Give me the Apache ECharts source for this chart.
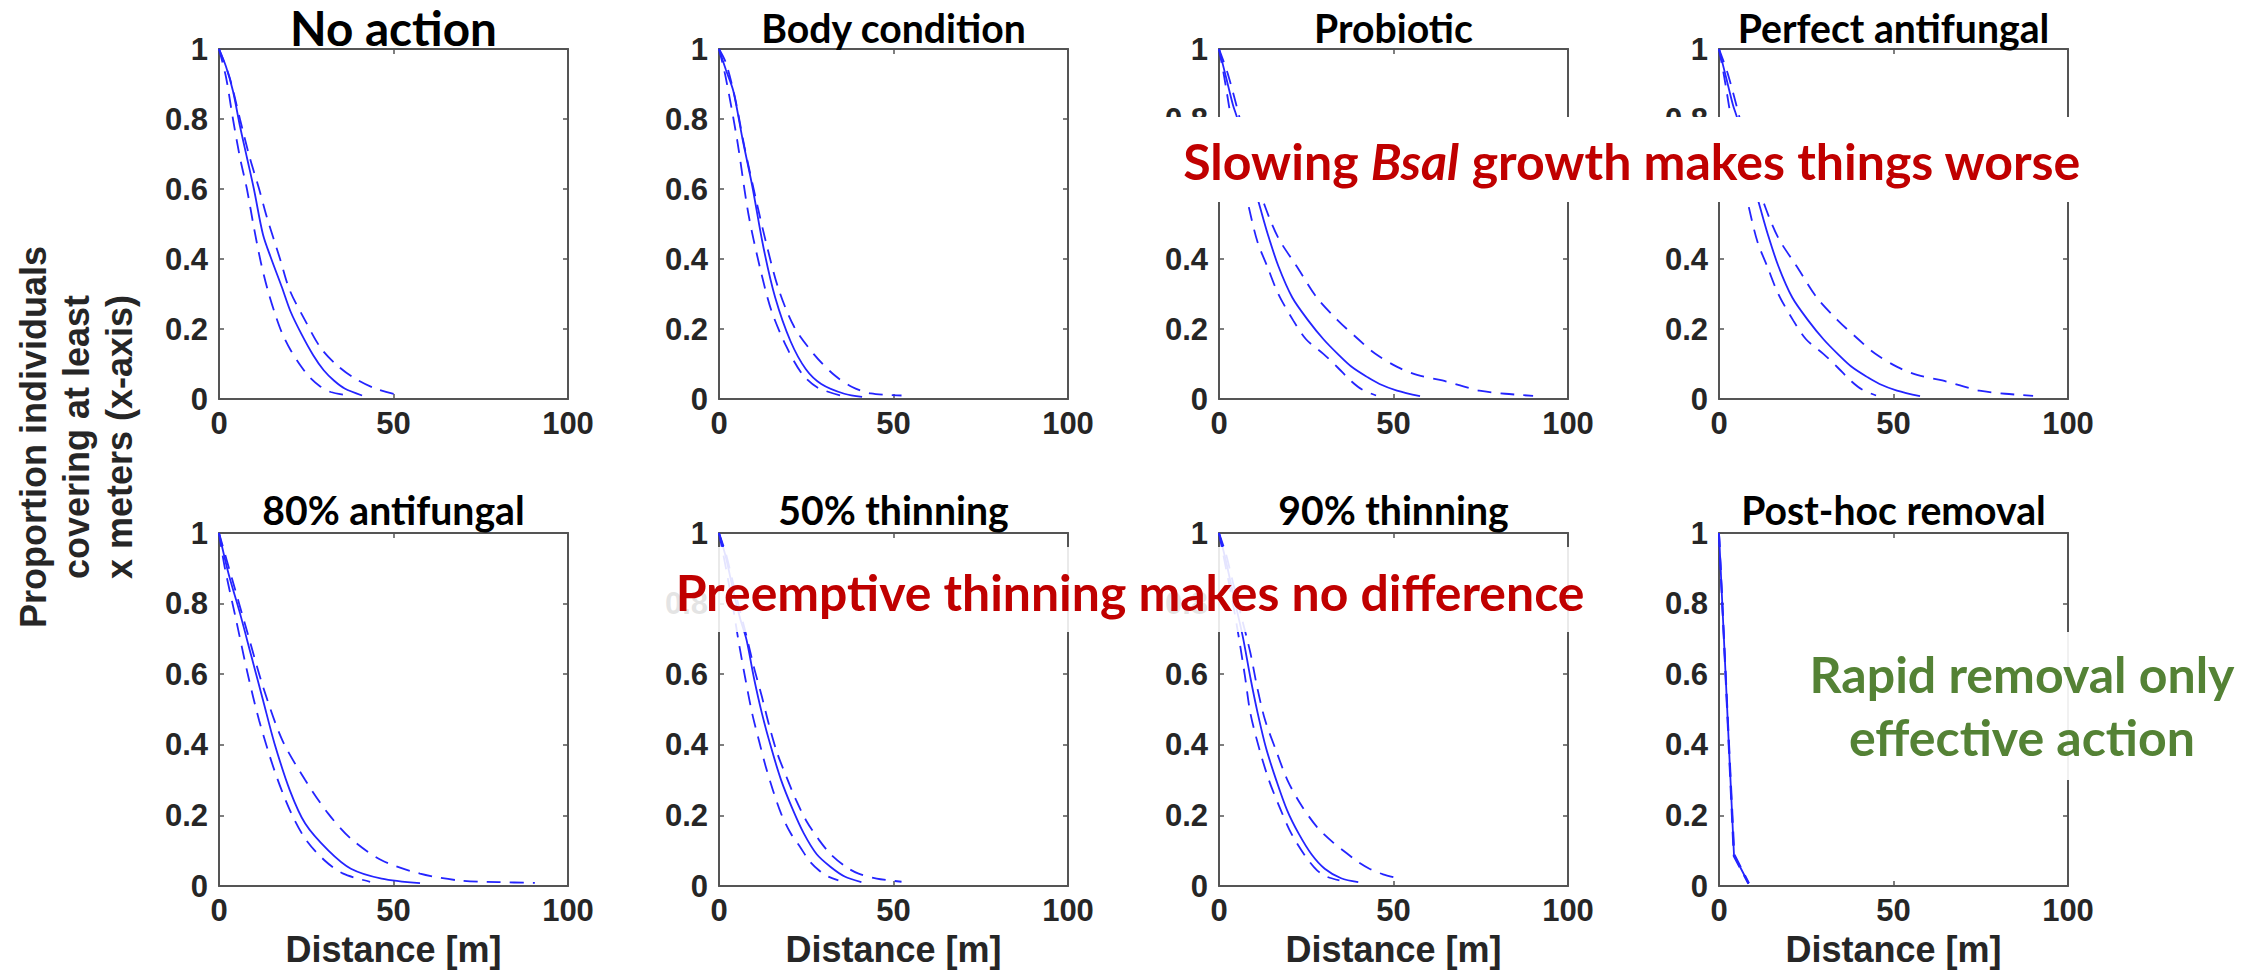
<!DOCTYPE html>
<html><head><meta charset="utf-8">
<script src="https://cdn.jsdelivr.net/npm/echarts@6/dist/echarts.min.js"></script>
<style>html,body{margin:0;padding:0;background:#fff}#c{width:2267px;height:970px}</style>
</head><body><div id="c"></div>
<script>
// ---------------- DATA ----------------
const panelTitles = ['No action','Body condition','Probiotic','Perfect antifungal','80% antifungal','50% thinning','90% thinning','Post-hoc removal'];
const xTickInterval = 50;   // x ticks: 0, 50, 100
const yTickInterval = 0.2;  // y ticks: 0 ... 1

// each curve: [distance (m), proportion]
const noActionMedian = [[0,1],[2,0.95],[4,0.88],[6,0.78],[8,0.69],[10,0.6],[12.6,0.47],[15,0.4],[18,0.32],[20.5,0.25],[23.6,0.186],[27,0.125],[30,0.082],[33,0.052],[36,0.03],[41,0.01]];
const noActionLower  = [[0,1],[2,0.92],[4,0.8],[6,0.69],[8,0.6],[10,0.49],[12,0.39],[14,0.31],[16,0.245],[18,0.19],[20.5,0.14],[23.6,0.092],[26,0.062],[29,0.036],[32,0.02],[36,0.012]];
const noActionUpper  = [[0,1],[3,0.92],[6,0.8],[8.8,0.69],[11.5,0.6],[13.7,0.52],[17.5,0.4],[20.3,0.31],[24.7,0.224],[29,0.148],[33.4,0.1],[38.4,0.062],[45,0.029],[52,0.01]];

const bodyMedian = [[0,1],[2,0.94],[4.1,0.88],[6.8,0.74],[9.5,0.61],[12.8,0.43],[16.1,0.29],[20.5,0.165],[24.9,0.085],[29.3,0.043],[35.9,0.015],[41,0.006]];
const bodyLower  = [[0,1],[1.9,0.92],[5.2,0.74],[8.4,0.53],[11.7,0.377],[15,0.253],[19.4,0.148],[23.8,0.072],[28.2,0.033],[34.8,0.01]];
const bodyUpper  = [[0,1],[2,0.96],[4.6,0.86],[7.3,0.72],[10.6,0.57],[13.9,0.43],[17.2,0.31],[21.6,0.205],[27.1,0.129],[32.6,0.072],[38,0.035],[43.5,0.016],[52.3,0.01]];

const probioticMedian = [[0,1],[2,0.92],[4,0.84],[5.3,0.8],[8,0.69],[10,0.61],[11.7,0.55],[14,0.47],[17,0.38],[21,0.29],[25.6,0.224],[30,0.17],[34,0.129],[38,0.092],[42.6,0.062],[46,0.043],[51,0.024],[57.6,0.008]];
const probioticLower  = [[0,1],[1.5,0.92],[3.5,0.8],[6,0.67],[8.5,0.55],[11,0.45],[13.9,0.377],[17,0.3],[21.3,0.224],[25,0.17],[29.9,0.129],[34,0.09],[38,0.05],[41,0.027],[45,0.01]];
const probioticUpper  = [[0,1],[2.5,0.93],[6,0.8],[9,0.68],[13.2,0.55],[17,0.46],[22.4,0.377],[28,0.29],[34.1,0.224],[40,0.17],[44.8,0.129],[51.2,0.091],[57,0.068],[64,0.053],[70,0.036],[74.6,0.024],[82,0.015],[90,0.009]];

const perfectMedian = [[0,1],[2,0.92],[4,0.84],[5.3,0.8],[8,0.69],[10,0.61],[11.7,0.55],[14,0.47],[17,0.38],[21,0.29],[25.6,0.224],[30,0.17],[34,0.129],[38,0.092],[42.6,0.062],[46,0.043],[51,0.024],[57.6,0.008]];
const perfectLower  = [[0,1],[1.5,0.92],[3.5,0.8],[6,0.67],[8.5,0.55],[11,0.45],[13.9,0.377],[17,0.3],[21.3,0.224],[25,0.17],[29.9,0.129],[34,0.09],[38,0.05],[41,0.027],[45,0.01]];
const perfectUpper  = [[0,1],[2.5,0.93],[6,0.8],[9,0.68],[13.2,0.55],[17,0.46],[22.4,0.377],[28,0.29],[34.1,0.224],[40,0.17],[44.8,0.129],[51.2,0.091],[57,0.068],[64,0.053],[70,0.036],[74.6,0.024],[82,0.015],[90,0.009]];

const af80Median = [[0,1],[2.7,0.886],[6,0.773],[9.3,0.65],[12.6,0.527],[15.9,0.404],[20.3,0.271],[24.7,0.177],[31.3,0.101],[37.8,0.049],[46.6,0.021],[57.6,0.008]];
const af80Lower  = [[0,1],[1.6,0.905],[4.9,0.754],[8.2,0.602],[11.5,0.469],[15.9,0.327],[20.3,0.215],[24.7,0.134],[30.2,0.073],[35.6,0.035],[43.3,0.012]];
const af80Upper  = [[0,1],[3.8,0.868],[8.2,0.716],[12.6,0.565],[18.1,0.414],[24.7,0.3],[31.3,0.205],[37.8,0.134],[46.6,0.073],[57.6,0.035],[68.5,0.016],[80,0.011],[90.5,0.009]];

const thin50Median = [[0,1],[2,0.93],[4,0.84],[6,0.76],[7.9,0.697],[10,0.59],[12.3,0.489],[15,0.39],[17.8,0.3],[21,0.22],[24.3,0.149],[28,0.09],[32,0.054],[36,0.027],[40.8,0.011]];
const thin50Lower  = [[0,1],[2,0.9],[4,0.79],[5.7,0.688],[7.5,0.59],[9.5,0.489],[11.5,0.41],[13.4,0.338],[15.5,0.27],[17.8,0.205],[20.5,0.15],[23.2,0.111],[26,0.07],[28.7,0.044],[31,0.028],[34.2,0.016]];
const thin50Upper  = [[0,1],[2,0.94],[4,0.86],[6,0.78],[7.9,0.707],[10,0.62],[12.3,0.536],[14.5,0.45],[16.7,0.376],[19.5,0.305],[22.1,0.243],[25,0.185],[28.7,0.13],[32,0.09],[36.4,0.054],[40,0.035],[45.2,0.021],[52.3,0.012]];

const thin90Median = [[0,1],[2,0.92],[4,0.83],[6.8,0.707],[9,0.59],[11.1,0.489],[13.5,0.39],[16.4,0.3],[19.5,0.215],[22.8,0.149],[26.5,0.09],[30.3,0.049],[35,0.022],[39.9,0.011]];
const thin90Lower  = [[0,1],[2,0.9],[4,0.8],[5.8,0.697],[7.5,0.59],[9,0.489],[11.5,0.39],[14.3,0.3],[17.5,0.22],[20.7,0.149],[24.5,0.088],[28.1,0.044],[31,0.026],[34.5,0.016]];
const thin90Upper  = [[0,1],[2,0.94],[4,0.86],[6.5,0.76],[9,0.66],[11,0.56],[13.2,0.47],[16.5,0.38],[19.6,0.3],[23.5,0.23],[28.1,0.167],[32.5,0.125],[36.7,0.092],[40,0.067],[43.1,0.049],[47,0.033],[51.6,0.021]];

const postHocMedian = [[0,1],[4.3,0.087],[8.5,0.007]];
const postHocLower  = [[0,1],[4.2,0.085],[8.4,0.006]];
const postHocUpper  = [[0,1],[4.4,0.09],[8.6,0.008]];

const panelCurves = [
  [noActionMedian, noActionLower, noActionUpper],
  [bodyMedian, bodyLower, bodyUpper],
  [probioticMedian, probioticLower, probioticUpper],
  [perfectMedian, perfectLower, perfectUpper],
  [af80Median, af80Lower, af80Upper],
  [thin50Median, thin50Lower, thin50Upper],
  [thin90Median, thin90Lower, thin90Upper],
  [postHocMedian, postHocLower, postHocUpper]
];

const yAxisTitle = 'Proportion individuals\ncovering at least\nx meters (x-axis)';
const xAxisTitle = 'Distance [m]';
const note1Parts = ['Slowing ', 'Bsal', ' growth makes things worse'];
const note2 = 'Preemptive thinning makes no difference';
const note3 = ['Rapid removal only', 'effective action'];

// ---------------- RENDER ----------------
const chart = echarts.init(document.getElementById('c'), null, {renderer: 'svg'});
const mctx = document.createElement('canvas').getContext('2d');
function measure(text, font) { mctx.font = font; return mctx.measureText(text).width; }
function fitSize(parts, weight, family, target, italicIdx) {
  let w = 0;
  parts.forEach((t, k) => { w += measure(t, (k === italicIdx ? 'italic ' : '') + weight + ' 100px ' + family); });
  return 100 * target / w;
}

const TITLE_FONT = 'Lato';
const AX_FONT = 'Liberation Sans';
const axColor = '#555555';
const txtColor = '#262626';
const lineColor = '#2424ff';

const grids = [], xAxes = [], yAxes = [], series = [], graphics = [];

// title font sizes (fit widths measured on reference)
const titleWidths = [207, 262, 158, 316, 262, 229, 233, 306];
const fitted = panelTitles.map((t, i) => fitSize([t], 'bold', TITLE_FONT, titleWidths[i]));
const restSize = fitted.slice(1).reduce((a, b) => a + b, 0) / (fitted.length - 1);

panelTitles.forEach((title, i) => {
  const col = i % 4, row = Math.floor(i / 4);
  const left = 219 + 500 * col;
  const top = row ? 533 : 49;
  const height = row ? 353 : 350;
  grids.push({left: left, top: top, width: 349, height: height});
  const lineStyle = {color: axColor, width: 2};
  const tick = {show: true, inside: true, length: 5, lineStyle: {color: axColor, width: 1.5}};
  // the 0.6 label of the two panels fully covered by the opaque note box is not visible in the reference
  const hiddenLabel = (i === 2 || i === 3) ? 0.6 : null;
  xAxes.push({
    gridIndex: i, type: 'value', min: 0, max: 100, interval: xTickInterval, position: 'bottom',
    axisLine: {show: true, onZero: false, lineStyle: lineStyle}, axisTick: tick,
    splitLine: {show: false},
    axisLabel: {show: true, margin: 9, fontFamily: AX_FONT, fontWeight: 'bold', fontSize: 31, color: txtColor},
    name: row ? xAxisTitle : '', nameLocation: 'middle', nameGap: 45,
    nameTextStyle: {fontFamily: AX_FONT, fontWeight: 'bold', fontSize: 36, color: txtColor}
  });
  xAxes.push({
    gridIndex: i, type: 'value', min: 0, max: 100, interval: xTickInterval, position: 'top',
    axisLine: {show: true, onZero: false, lineStyle: lineStyle}, axisTick: tick,
    splitLine: {show: false}, axisLabel: {show: false}
  });
  yAxes.push({
    gridIndex: i, type: 'value', min: 0, max: 1, interval: yTickInterval, position: 'left',
    axisLine: {show: true, onZero: false, lineStyle: lineStyle}, axisTick: tick,
    splitLine: {show: false},
    axisLabel: {show: true, margin: 11, fontFamily: AX_FONT, fontWeight: 'bold', fontSize: 31, color: txtColor,
      formatter: function (v) { return (hiddenLabel !== null && Math.abs(v - hiddenLabel) < 1e-9) ? '' : String(+v.toFixed(1)); }}
  });
  yAxes.push({
    gridIndex: i, type: 'value', min: 0, max: 1, interval: yTickInterval, position: 'right',
    axisLine: {show: true, onZero: false, lineStyle: lineStyle}, axisTick: tick,
    splitLine: {show: false}, axisLabel: {show: false}
  });
  const curves = panelCurves[i];
  const smooth = i === 7 ? false : 0.3;
  series.push({type: 'line', xAxisIndex: 2 * i, yAxisIndex: 2 * i, data: curves[1], showSymbol: false, smooth: smooth, silent: true,
    lineStyle: {color: lineColor, width: 1.8, type: [14, 9]}});
  series.push({type: 'line', xAxisIndex: 2 * i, yAxisIndex: 2 * i, data: curves[2], showSymbol: false, smooth: smooth, silent: true,
    lineStyle: {color: lineColor, width: 1.8, type: [14, 9]}});
  series.push({type: 'line', xAxisIndex: 2 * i, yAxisIndex: 2 * i, data: curves[0], showSymbol: false, smooth: smooth, silent: true,
    lineStyle: {color: lineColor, width: 1.8, type: 'solid'}});

  const fs = i === 0 ? fitted[0] : restSize;
  graphics.push({type: 'text', x: left + 174.5, y: row ? 509 : 27, z: 50,
    style: {text: title, align: 'center', verticalAlign: 'middle', fontFamily: TITLE_FONT, fontWeight: 'bold', fontSize: fs, fill: '#000'}});
});

// y-axis title
graphics.push({type: 'text', x: 76, y: 437, rotation: Math.PI / 2, z: 50,
  style: {text: yAxisTitle, align: 'center', verticalAlign: 'middle', fontFamily: AX_FONT, fontWeight: 'bold', fontSize: 36, lineHeight: 43, fill: txtColor}});

// annotation boxes
graphics.push({type: 'rect', z: 90, shape: {x: 1150, y: 117, width: 925, height: 85}, style: {fill: '#ffffff'}});
graphics.push({type: 'rect', z: 90, shape: {x: 655, y: 547, width: 935, height: 85}, style: {fill: 'rgba(255,255,255,0.88)'}});
graphics.push({type: 'rect', z: 90, shape: {x: 1790, y: 632, width: 455, height: 148}, style: {fill: 'rgba(255,255,255,0.92)'}});

const red = '#C00000', green = '#548235';
const n1 = fitSize(note1Parts, 'bold', TITLE_FONT, 898, 1);
graphics.push({type: 'text', x: 1632, y: 161, z: 100,
  style: {text: '{a|' + note1Parts[0] + '}{b|' + note1Parts[1] + '}{a|' + note1Parts[2] + '}', align: 'center', verticalAlign: 'middle',
    rich: {a: {fontFamily: TITLE_FONT, fontWeight: 'bold', fontSize: n1, fill: red},
           b: {fontFamily: TITLE_FONT, fontWeight: 'bold', fontStyle: 'italic', fontSize: n1, fill: red}}}});
const n2 = fitSize([note2], 'bold', TITLE_FONT, 909);
graphics.push({type: 'text', x: 1130, y: 592, z: 100,
  style: {text: note2, align: 'center', verticalAlign: 'middle', fontFamily: TITLE_FONT, fontWeight: 'bold', fontSize: n2, fill: red}});
const n3 = fitSize([note3[0]], 'bold', TITLE_FONT, 425);
graphics.push({type: 'text', x: 2022, y: 674, z: 100,
  style: {text: note3[0], align: 'center', verticalAlign: 'middle', fontFamily: TITLE_FONT, fontWeight: 'bold', fontSize: n3, fill: green}});
graphics.push({type: 'text', x: 2022, y: 737, z: 100,
  style: {text: note3[1], align: 'center', verticalAlign: 'middle', fontFamily: TITLE_FONT, fontWeight: 'bold', fontSize: n3, fill: green}});

chart.setOption({
  animation: false,
  backgroundColor: '#ffffff',
  grid: grids, xAxis: xAxes, yAxis: yAxes, series: series, graphic: graphics
});
</script></body></html>
